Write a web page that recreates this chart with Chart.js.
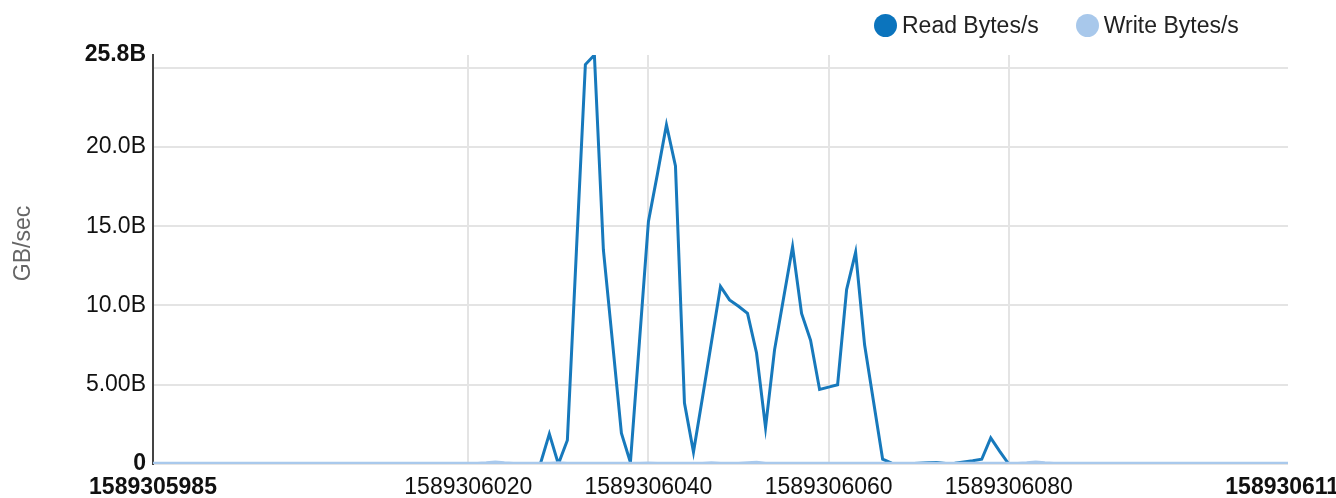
<!DOCTYPE html>
<html>
<head>
<meta charset="utf-8">
<script src="https://cdn.jsdelivr.net/npm/chart.js@4/dist/chart.umd.min.js"></script>
<style>
  html, body { margin: 0; padding: 0; background: #fff; overflow: hidden; }
  #wrap { position: relative; width: 1336px; height: 498px; font-family: "Liberation Sans", Arial, sans-serif; }
  #legend { position: absolute; left: 874px; top: 14px; display: flex; align-items: center; }
  .item { display: flex; align-items: center; margin-right: 37px; font-size: 23px; line-height: 23px; color: #222; }
  .dot { width: 23px; height: 23px; border-radius: 50%; margin-right: 5px; }
</style>
</head>
<body>
<div id="wrap">
  <canvas id="chart"></canvas>
  <div id="legend"></div>
</div>
<script>
// ось времени
const T0 = 1589306000
const X_MIN = 1589305985
const X_MAX = 1589306111
const X_TICKS = [1589305985, 1589306020, 1589306040, 1589306060, 1589306080, 1589306111]
const Y_TICKS = [0, 5, 10, 15, 20, 25, 25.8]
const Y_MAX = 25.8

// секунды относительно T0
const SECONDS = [-15, 0, 15,
  20, 21, 22, 23, 24, 25, 26, 27, 28, 29,
  30, 31, 32, 33, 34, 35, 36, 37, 38, 39,
  40, 41, 42, 43, 44, 45, 46, 47, 48, 49,
  50, 51, 52, 53, 54, 55, 56, 57, 58, 59,
  60, 61, 62, 63, 64, 65, 66, 67, 68, 69,
  70, 71, 72, 73, 74, 75, 76, 77, 78, 79,
  80, 81, 82, 83, 84, 85, 86, 87, 88, 89,
  90, 100, 111]

// значения, млрд байт/с
const READ = [0, 0, 0,
  0, 0, 0, 0, 0, 0, 0, 0, 0, 1.9,
  0, 1.5, 13.4, 25.2, 25.8, 13.5, 7.75, 1.95, 0.1, 7.7,
  15.3, 18.3, 21.4, 18.8, 3.85, 0.75, 4.2, 7.7, 11.2, 10.35,
  9.95, 9.5, 7.0, 2.3, 7.2, 10.45, 13.7, 9.5, 7.8, 4.7,
  4.85, 5.0, 11.0, 13.35, 7.5, 3.9, 0.3, 0.05, 0, 0.02,
  0.05, 0.08, 0.1, 0.03, 0.05, 0.12, 0.2, 0.3, 1.65, 0.8,
  0, 0, 0, 0, 0, 0, 0, 0, 0, 0,
  0, 0, 0]

const WRITE = [0.02, 0.02, 0.02,
  0.02, 0.02, 0.05, 0.1, 0.05, 0.02, 0.02, 0.02, 0.02, 0.02,
  0.05, 0.02, 0.02, 0.02, 0.02, 0.02, 0.02, 0.02, 0.02, 0.02,
  0.03, 0.02, 0.02, 0.02, 0.02, 0.02, 0.02, 0.05, 0.02, 0.02,
  0.02, 0.05, 0.08, 0.02, 0.02, 0.02, 0.02, 0.02, 0.02, 0.02,
  0.02, 0.02, 0.02, 0.02, 0.02, 0.02, 0.02, 0.02, 0.02, 0.02,
  0.02, 0.02, 0.02, 0.02, 0.02, 0.02, 0.02, 0.02, 0.02, 0.02,
  0.02, 0.02, 0.05, 0.1, 0.05, 0.02, 0.02, 0.02, 0.02, 0.02,
  0.02, 0.02, 0.02]

const NAMES = ["Read Bytes/s", "Write Bytes/s"]
const LINE_COLORS = ["#1779bc", "#a9c9ec"]
const DOT_COLORS = ["#0b74bd", "#a8c8eb"]


// точки серии
function points(values) {
  return SECONDS.map(function (s, i) {
    return { x: T0 + s, y: values[i] }
  })
}


// подпись оси Y
function yLabel(v) {
  if (v === 0) return "0"
  if (v === 25) return ""
  if (v < 10) return v.toFixed(2) + "B"
  return v.toFixed(1) + "B"
}


// легенда
function drawLegend() {
  const root = document.getElementById("legend")

  NAMES.forEach(function (name, i) {
    const item = document.createElement("div")
    item.className = "item"
    item.innerHTML = `<span class="dot" style="background:${DOT_COLORS[i]}"></span><span>${name}</span>`
    root.appendChild(item)
  })
}


Chart.defaults.font.family = '"Liberation Sans", Arial, sans-serif'

new Chart(document.getElementById("chart"), {
  type: "line",
  data: {
    datasets: [
      {
        label: NAMES[0],
        data: points(READ),
        borderColor: LINE_COLORS[0],
        borderWidth: 3,
        pointRadius: 0,
        tension: 0,
        order: 1,
      },
      {
        label: NAMES[1],
        data: points(WRITE),
        borderColor: LINE_COLORS[1],
        borderWidth: 4,
        pointRadius: 0,
        tension: 0,
        order: 0,
      },
    ],
  },
  options: {
    responsive: true,
    maintainAspectRatio: false,
    animation: false,
    layout: { padding: { top: 55, right: 48, bottom: 0, left: 0 } },
    plugins: {
      legend: { display: false },
      tooltip: { enabled: false },
    },
    scales: {
      x: {
        type: "linear",
        min: X_MIN,
        max: X_MAX,
        afterBuildTicks: function (scale) {
          scale.ticks = X_TICKS.map(function (v) { return { value: v } })
        },
        afterFit: function (scale) {
          scale.paddingRight = 0
          scale.height = 34
        },
        border: { display: false },
        grid: {
          drawTicks: false,
          lineWidth: 2,
          color: function (ctx) {
            return ctx.index === 0 || ctx.index === X_TICKS.length - 1 ? "rgba(0,0,0,0)" : "#e4e4e4"
          },
        },
        ticks: {
          autoSkip: false,
          maxRotation: 0,
          padding: 12,
          color: "#111",
          font: function (ctx) {
            const edge = ctx.index === 0 || ctx.index === X_TICKS.length - 1
            return { size: 23, lineHeight: 1, weight: edge ? "bold" : "normal" }
          },
          callback: function (v) { return String(v) },
        },
      },
      y: {
        min: 0,
        max: Y_MAX,
        afterBuildTicks: function (scale) {
          scale.ticks = Y_TICKS.map(function (v) { return { value: v } })
        },
        afterFit: function (scale) {
          scale.width = 153
        },
        border: { display: true, color: "#444", width: 2 },
        grid: {
          drawTicks: false,
          lineWidth: 2,
          color: function (ctx) {
            return ctx.tick && ctx.tick.value === Y_MAX ? "rgba(0,0,0,0)" : "#e4e4e4"
          },
        },
        ticks: {
          autoSkip: false,
          padding: 7,
          color: "#111",
          font: function (ctx) {
            const v = ctx.tick ? ctx.tick.value : 1
            return { size: 23, weight: v === 0 || v === Y_MAX ? "bold" : "normal" }
          },
          callback: function (v) { return yLabel(v) },
        },
        title: {
          display: true,
          text: "     GB/sec",
          color: "#666",
          font: { size: 23 },
          padding: { top: 10, bottom: 0 },
        },
      },
    },
  },
})

drawLegend()
</script>
</body>
</html>
